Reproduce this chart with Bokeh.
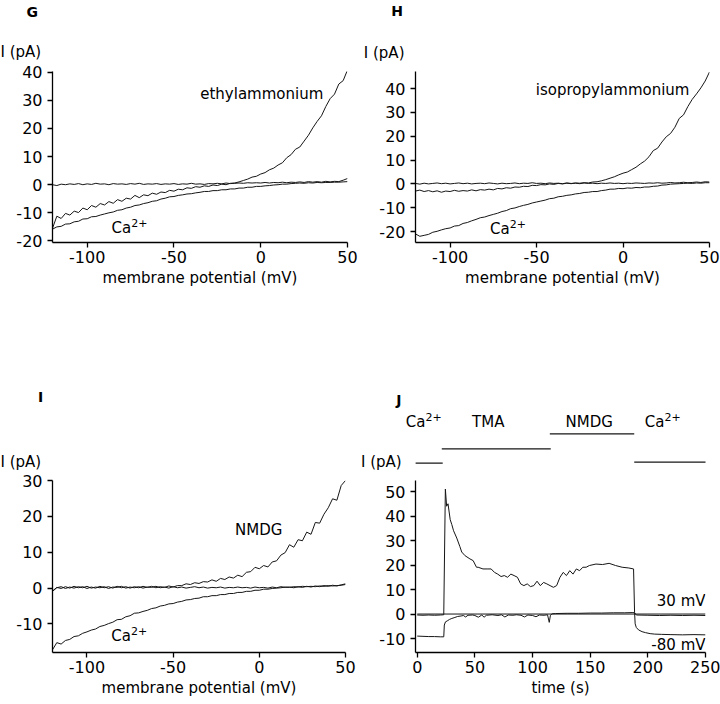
from bokeh.plotting import figure
from bokeh.models import Range1d, FixedTicker, Label, PrintfTickFormatter
from bokeh.layouts import column, row
from bokeh.embed import file_html
from bokeh.resources import INLINE

# ---------------- data ----------------
# membrane potential sample points (mV) shared by panels G, H, I
volt = [-120, -117.5, -115, -112.5, -110, -107.5, -105, -102.5, -100, -97.5,
        -95, -92.5, -90, -87.5, -85, -82.5, -80, -77.5, -75, -72.5,
        -70, -67.5, -65, -62.5, -60, -57.5, -55, -52.5, -50, -47.5,
        -45, -42.5, -40, -37.5, -35, -32.5, -30, -27.5, -25, -22.5,
        -20, -17.5, -15, -12.5, -10, -7.5, -5, -2.5, 0, 2.5,
        5, 7.5, 10, 12.5, 15, 17.5, 20, 22.5, 25, 27.5,
        30, 32.5, 35, 37.5, 40, 42.5, 45, 47.5, 50]

# Panel G (pA)
g_ethyl = [-15.5, -11.2, -12.0, -10.2, -10.8, -9.4, -9.9, -8.3, -8.9, -7.4,
           -8.0, -6.7, -7.2, -6.0, -6.6, -5.3, -5.9, -4.8, -5.1, -3.8,
           -4.6, -3.6, -3.9, -3.0, -3.4, -2.6, -2.8, -2.0, -2.3, -1.6,
           -1.8, -1.1, -1.3, -0.7, -0.9, -0.4, -0.6, -0.1, -0.3, 0.2,
           0.0, 0.5, 0.6, 1.0, 1.5, 2.0, 2.7, 3.0, 3.8, 4.3,
           5.3, 5.9, 7.0, 7.8, 9.6, 10.7, 12.6, 13.4, 15.5, 17.6,
           20.2, 22.5, 24.5, 27.8, 30.6, 32.2, 35.8, 37.0, 40.8]
g_flat = [0.0, -0.3, 0.2, 0.0, 0.3, 0.1, 0.4, 0.0, 0.3, 0.1,
          0.5, 0.2, 0.3, 0.0, 0.4, 0.2, 0.3, 0.1, 0.4, 0.2,
          0.5, 0.1, 0.3, 0.2, 0.4, 0.1, 0.3, 0.2, 0.4, 0.1,
          0.3, 0.2, 0.5, 0.2, 0.3, 0.1, 0.4, 0.3, 0.5, 0.3,
          0.6, 0.4, 0.5, 0.6, 0.5, 0.7, 0.6, 0.7, 0.6, 0.8,
          0.6, 0.8, 0.7, 0.9, 0.7, 0.9, 0.8, 1.0, 0.8, 1.1,
          0.9, 1.1, 0.9, 1.2, 1.0, 1.2, 1.1, 1.6, 2.2]
g_ca = [-15.8, -15.0, -14.8, -14.0, -13.9, -13.2, -13.0, -12.2, -12.1, -11.4,
        -11.3, -10.8, -10.4, -10.0, -9.7, -9.1, -8.9, -8.3, -8.0, -7.4,
        -7.2, -6.7, -6.4, -5.9, -5.7, -5.1, -4.8, -4.3, -4.2, -3.8,
        -3.6, -3.3, -3.2, -2.9, -2.7, -2.4, -2.4, -2.1, -2.1, -1.8,
        -1.8, -1.5, -1.5, -1.2, -1.2, -0.9, -0.9, -0.6, -0.6, -0.4,
        -0.3, -0.1, 0.0, 0.2, 0.2, 0.4, 0.5, 0.6, 0.5, 0.7,
        0.6, 0.8, 0.7, 0.8, 0.8, 0.9, 0.9, 1.0, 1.1]

# Panel H (pA)
h_iso = [-3.0, -2.6, -3.2, -2.8, -3.3, -2.9, -3.5, -3.0, -3.2, -2.7,
         -3.1, -2.8, -3.0, -2.5, -2.9, -2.4, -2.6, -2.2, -2.5, -1.9,
         -2.1, -1.6, -1.8, -1.3, -1.4, -1.0, -1.1, -0.6, -0.7, -0.3,
         -0.4, 0.0, -0.2, 0.2, 0.0, 0.3, 0.1, 0.4, 0.3, 0.5,
         0.4, 0.8, 0.9, 1.3, 1.8, 2.4, 3.0, 3.8, 4.5, 5.0,
         6.0, 7.0, 8.4, 9.6, 11.4, 14.0, 15.0, 17.6, 19.8, 21.2,
         23.8, 27.5, 29.0, 32.5, 35.5, 37.8, 40.3, 43.2, 47.0]
h_flat = [0.2, -0.1, 0.3, 0.0, 0.2, 0.4, 0.1, 0.3, 0.0, 0.2,
          0.4, 0.1, 0.3, 0.0, 0.2, 0.3, 0.1, 0.4, 0.2, 0.0,
          0.3, 0.1, 0.2, 0.4, 0.1, 0.3, 0.2, 0.5, 0.2, 0.3,
          0.1, 0.4, 0.2, 0.3, 0.1, 0.4, 0.2, 0.3, 0.1, 0.4,
          0.2, 0.3, 0.1, 0.3, 0.2, 0.4, 0.2, 0.3, 0.1, 0.3,
          0.2, 0.4, 0.3, 0.2, 0.4, 0.3, 0.5, 0.3, 0.4, 0.6,
          0.4, 0.5, 0.7, 0.5, 0.6, 0.8, 0.6, 0.9, 0.8]
h_ca = [-21.0, -22.0, -21.6, -21.2, -20.3, -19.9, -19.3, -18.8, -18.5, -17.7,
        -17.5, -16.6, -16.2, -15.5, -14.9, -14.2, -13.9, -13.3, -12.8, -12.3,
        -11.6, -11.2, -10.4, -10.1, -9.5, -9.0, -8.6, -8.0, -7.6, -7.2,
        -6.8, -6.2, -6.0, -5.4, -5.2, -4.8, -4.6, -4.2, -4.0, -3.6,
        -3.5, -3.2, -3.2, -2.8, -2.6, -2.2, -2.2, -1.9, -2.0, -1.7,
        -1.8, -1.5, -1.6, -1.3, -1.3, -1.0, -0.9, -0.5, -0.4, -0.1,
        0.0, 0.1, 0.2, 0.3, 0.2, 0.4, 0.3, 0.5, 0.5]

# Panel I (pA)
i_nmdg = [-0.8, 0.2, -0.1, 0.4, 0.0, 0.5, 0.1, 0.4, -0.1, 0.3,
          0.0, 0.5, 0.1, 0.4, 0.0, 0.5, 0.1, 0.4, 0.0, 0.4,
          0.1, 0.5, 0.2, 0.5, 0.1, 0.4, 0.2, 0.6, 0.3, 0.7,
          0.7, 1.2, 1.0, 1.5, 1.3, 1.8, 1.7, 2.3, 1.9, 2.7,
          2.4, 3.1, 2.8, 3.6, 3.2, 4.4, 4.6, 5.8, 5.4, 6.3,
          5.9, 7.3, 7.6, 9.2, 9.9, 12.1, 11.4, 13.5, 13.2, 15.6,
          15.0, 18.3, 18.1, 20.6, 22.4, 24.9, 24.5, 28.6, 30.0]
i_flat = [-0.9, 0.1, 0.4, -0.1, 0.3, 0.0, 0.4, 0.1, 0.5, 0.0,
          0.3, 0.1, 0.4, -0.1, 0.3, 0.2, 0.5, 0.0, 0.3, 0.1,
          0.4, 0.0, 0.3, 0.2, 0.5, 0.1, 0.3, 0.0, 0.4, 0.1,
          0.3, 0.0, 0.2, 0.4, 0.1, 0.3, 0.0, 0.2, 0.1, 0.3,
          0.0, 0.2, 0.1, 0.3, 0.1, 0.2, 0.0, 0.3, 0.1, 0.2,
          0.0, 0.3, 0.1, 0.4, 0.2, 0.3, 0.1, 0.4, 0.2, 0.5,
          0.3, 0.6, 0.4, 0.7, 0.5, 0.8, 0.6, 0.9, 1.2]
i_ca = [-17.2, -15.2, -15.6, -14.6, -14.3, -13.5, -13.3, -12.6, -12.2, -11.7,
        -11.4, -10.7, -10.4, -9.9, -9.5, -8.8, -8.7, -8.0, -7.7, -7.0,
        -6.9, -6.5, -6.2, -5.7, -5.5, -5.0, -4.8, -4.4, -4.3, -3.9,
        -3.7, -3.3, -3.2, -2.9, -2.8, -2.4, -2.4, -2.1, -2.1, -1.8,
        -1.8, -1.5, -1.5, -1.2, -1.2, -0.9, -0.9, -0.6, -0.6, -0.3,
        -0.3, -0.1, 0.0, 0.1, 0.3, 0.2, 0.4, 0.3, 0.5, 0.4,
        0.5, 0.4, 0.6, 0.5, 0.7, 0.6, 0.7, 0.8, 1.0]

# Panel J: time course (s, pA)
j_t30 = [0, 5, 10, 15, 20, 23, 24.4, 25.5, 26.7, 28.6,
         30, 31.5, 34.3, 37, 38.6, 41.5, 45.7, 48.5, 51.4, 52.8,
         57, 61.3, 64.1, 67, 69.8, 72.7, 75.5, 78.3, 81.2, 84,
         86.9, 89.7, 92.5, 95.4, 98.2, 101.1, 103.9, 106.7, 109.6, 112.4,
         115.2, 118.1, 120.9, 123.8, 126.6, 129.4, 132.3, 135.1, 138, 140.8,
         143.6, 146.5, 149.3, 155, 160.7, 166.4, 172, 177.7, 183.4, 187.6,
         188.5, 190, 200, 210, 220, 230, 240, 250]
j_i30 = [-0.4, -0.5, -0.4, -0.5, -0.4, -0.3, 51.0, 44.0, 45.0, 38.5,
         36.5, 34.0, 31.0, 27.5, 25.3, 23.8, 22.5, 21.8, 19.1, 19.1,
         18.4, 18.4, 18.4, 17.0, 16.3, 15.3, 15.7, 15.0, 16.3, 15.7,
         15.0, 12.3, 11.6, 12.3, 11.2, 11.6, 13.4, 11.6, 12.9, 12.3,
         11.6, 10.9, 11.6, 15.0, 17.0, 15.7, 17.7, 16.3, 18.4, 17.7,
         19.1, 19.1, 19.8, 20.4, 20.2, 20.7, 19.8, 19.1, 18.8, 18.4,
         0.5, -0.4, -0.5, -0.6, -0.5, -0.6, -0.5, -0.6]
j_t80 = [0, 5, 10, 15, 20, 23, 23.5, 24.5, 26, 28,
         30, 32, 35, 38, 40, 42, 44, 48, 50, 53,
         56, 58, 60, 65, 70, 73, 76, 79, 83, 86,
         90, 93, 96, 100, 103, 106, 110, 113, 114.5, 115.5,
         117, 120, 130, 140, 150, 160, 170, 180, 187, 188.5,
         189, 190, 192, 195, 198, 202, 206, 212, 220, 230,
         240, 250]
j_i80 = [-9.0, -9.1, -9.2, -9.2, -9.3, -9.3, -4.5, -3.2, -2.8, -2.2,
         -1.8, -1.5, -1.0, -0.8, -0.6, -1.2, -0.5, -0.4, -0.6, -1.3,
         -0.4, -1.3, -0.5, -0.3, -0.6, -0.3, -1.2, -0.4, -0.5, -0.3,
         -0.5, -1.2, -0.4, -0.6, -1.1, -0.4, -0.5, -0.3, -3.4, -0.5,
         0.1, 0.2, 0.3, 0.3, 0.4, 0.4, 0.5, 0.5, 0.6, 0.5,
         -4.0, -5.5, -6.5, -7.2, -7.6, -8.0, -8.2, -8.3, -8.4, -8.5,
         -8.4, -8.5]
j_zero_t = [0, 250]
j_zero_i = [0, 0]

# solution-exchange protocol above panel J (times in s)
sol_names = ["Ca", "TMA", "NMDG", "Ca"]
sol_start = [-1.4, 21.3, 115.0, 188.2]
sol_end = [22.1, 115.8, 188.2, 250.0]

iv_xticks = [-100, -50, 0, 50]
g_yticks = [-20, -10, 0, 10, 20, 30, 40]
h_yticks = [-20, -10, 0, 10, 20, 30, 40]
i_yticks = [-10, 0, 10, 20, 30]
j_xticks = [0, 50, 100, 150, 200, 250]
j_yticks = [-10, 0, 10, 20, 30, 40, 50]

# ---------------- styling / layout ----------------
FONT = "DejaVu Sans"
INK = "#161616"
COLW = 360


def make_plot(h, xr, yr, mbl, mbr, mbt, mbb, xticks, yticks, xlabel):
    p = figure(width=COLW, height=h, x_range=Range1d(*xr), y_range=Range1d(*yr),
               output_backend="svg", toolbar_location=None,
               min_border_left=mbl, min_border_right=mbr,
               min_border_top=mbt, min_border_bottom=mbb)
    p.outline_line_color = None
    p.xgrid.visible = False
    p.ygrid.visible = False
    p.background_fill_color = "white"
    p.border_fill_color = "white"
    for ax in (p.xaxis[0], p.yaxis[0]):
        ax.axis_line_width = 1.3
        ax.axis_line_color = "black"
        ax.major_tick_line_color = "black"
        ax.major_tick_line_width = 1.3
        ax.major_tick_in = 0
        ax.major_tick_out = 5
        ax.minor_tick_line_color = None
        ax.major_label_text_font = FONT
        ax.major_label_text_font_size = "16px"
        ax.major_label_text_color = "black"
        ax.axis_label_text_font = FONT
        ax.axis_label_text_font_size = "15px"
        ax.axis_label_text_font_style = "normal"
        ax.axis_label_text_color = "black"
        ax.formatter = PrintfTickFormatter(format="%d")
    p.xaxis.ticker = FixedTicker(ticks=xticks)
    p.yaxis.ticker = FixedTicker(ticks=yticks)
    p.xaxis.axis_label = xlabel
    p.xaxis.major_label_standoff = 3
    p.xaxis.axis_label_standoff = 3
    p.yaxis.major_label_standoff = 5
    return p


def make_header(h, xr):
    p = figure(width=COLW, height=h, x_range=xr, y_range=Range1d(h, 0),
               output_backend="svg", toolbar_location=None,
               x_axis_type=None, y_axis_type=None,
               min_border_left=0, min_border_right=0,
               min_border_top=0, min_border_bottom=0)
    p.outline_line_color = None
    p.background_fill_color = "white"
    p.border_fill_color = "white"
    return p


def lab(p, x, y, text, align="center", bold=False, size="15px", dx=0, dy=0):
    p.add_layout(Label(x=x, y=y, text=text, text_font=FONT, text_font_size=size,
                       text_font_style="bold" if bold else "normal",
                       x_offset=dx, y_offset=dy,
                       text_align=align, text_baseline="middle", text_color="black"))


def ion(p, x, y, base="Ca", charge="2+"):
    # element symbol with a raised, smaller charge, centred on (x, y)
    lab(p, x, y, base, align="left", dx=-18)
    lab(p, x, y, charge, align="left", size="11px", dx=1.7, dy=5)


# ----- Panel G -----
hG = make_header(62, Range1d(0, COLW))
lab(hG, 31.7, 11.7, "G", bold=True, size="14px")
lab(hG, 0, 51.5, "I (pA)", align="left")
pG = make_plot(238, (-120, 50), (-20.55, 40.25), 52, 13, 9, 56,
               iv_xticks, g_yticks, "membrane potential (mV)")
for ys in (g_flat, g_ca, g_ethyl):
    pG.line(volt, ys, line_color=INK, line_width=1.0)
lab(pG, 0.6, 32.1, "ethylammonium")
ion(pG, -75.6, -15.5)

# ----- Panel H -----
hH = make_header(62, Range1d(0, COLW))
lab(hH, 36.7, 10, "H", bold=True, size="14px")
lab(hH, 3.3, 52, "I (pA)", align="left")
pH = make_plot(238, (-120, 50), (-24.6, 47.2), 55, 11, 8, 58,
               iv_xticks, h_yticks, "membrane potential (mV)")
for ys in (h_flat, h_ca, h_iso):
    pH.line(volt, ys, line_color=INK, line_width=1.0)
lab(pH, -6, 39.6, "isopropylammonium")
ion(pH, -66.5, -18.75)

# ----- Panel I -----
hI = make_header(171, Range1d(0, COLW))
lab(hI, 40, 96.7, "I", bold=True, size="14px")
lab(hI, 0, 161, "I (pA)", align="left")
pI = make_plot(229, (-120, 50), (-17.95, 30), 52, 15, 9, 47,
               iv_xticks, i_yticks, "membrane potential (mV)")
for ys in (i_flat, i_ca, i_nmdg):
    pI.line(volt, ys, line_color=INK, line_width=1.0)
lab(pI, -0.4, 16.1, "NMDG")
ion(pI, -75.4, -13.4)

# ----- Panel J -----
J_T0, J_T1 = -1.5, 250
J_MBL, J_MBR = 55, 15
k = (COLW - J_MBL - J_MBR) / (J_T1 - J_T0)          # px per second
hJ = make_header(171, Range1d(J_T0 - J_MBL / k, J_T1 + J_MBR / k))
sol_rows = [162.7, 148.3, 133.3, 161.7]               # layout rows (px)
hJ.segment(x0=sol_start, y0=sol_rows, x1=sol_end, y1=sol_rows,
           line_color=INK, line_width=1.3)
for name, xc in zip(sol_names, [5.6, 61.6, 149.1, 212.9]):
    if name == "Ca":
        ion(hJ, xc, 121.5)
    else:
        lab(hJ, xc, 121.5, name)
lab(hJ, J_T0 + (38.3 - J_MBL) / k, 99.2, "J", bold=True, size="14px")
lab(hJ, J_T0 + (0.5 - J_MBL) / k, 161, "I (pA)", align="left")

pJ = make_plot(229, (J_T0, J_T1), (-15.7, 54.5), J_MBL, J_MBR, 9, 48,
               j_xticks, j_yticks, "time (s)")
pJ.line(j_zero_t, j_zero_i, line_color=INK, line_width=1.0)
pJ.line(j_t80, j_i80, line_color=INK, line_width=1.0)
pJ.line(j_t30, j_i30, line_color=INK, line_width=1.0)
lab(pJ, 250, 5.4, "30 mV", align="right")
lab(pJ, 250, -12.6, "-80 mV", align="right")

layout = column(
    row(hG, hH),
    row(pG, pH),
    row(hI, hJ),
    row(pI, pJ),
)
open("out.html", "w").write(file_html(layout, INLINE))
